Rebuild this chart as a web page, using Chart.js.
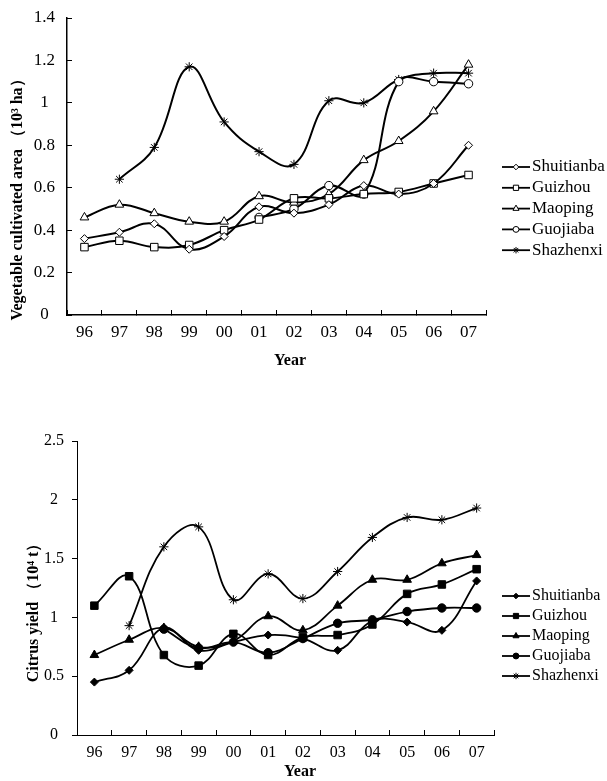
<!DOCTYPE html>
<html>
<head>
<meta charset="utf-8">
<script src="https://cdn.jsdelivr.net/npm/chart.js@4.4.1/dist/chart.umd.min.js"></script>
<style>
  body { margin: 0; background: #fff; }
  #wrap { position: relative; width: 607px; height: 781px; }
  canvas { position: absolute; left: 0; }
</style>
</head>
<body>
<div id="wrap">
  <canvas id="myChart_1" style="top:0px"></canvas>
  <canvas id="myChart_2" style="top:390px"></canvas>
</div>
<script>
//Labels for charts
const years = ["96", "97", "98", "99", "00", "01", "02", "03", "04", "05", "06", "07"];
const names = ["Shuitianba", "Guizhou", "Maoping", "Guojiaba", "Shazhenxi"];

//Vegetable cultivated area (10^3 ha)
const area_shuitianba = [0.36, 0.39, 0.43, 0.31, 0.37, 0.51, 0.48, 0.52, 0.61, 0.57, 0.62, 0.80];
const area_guizhou = [0.32, 0.35, 0.32, 0.33, 0.40, 0.45, 0.55, 0.55, 0.57, 0.58, 0.62, 0.66];
const area_maoping = [0.46, 0.52, 0.48, 0.44, 0.44, 0.56, 0.53, 0.57, 0.73, 0.82, 0.96, 1.18];
const area_guojiaba = [null, null, null, null, null, 0.46, 0.50, 0.61, 0.57, 1.10, 1.10, 1.09];
const area_shazhenxi = [null, 0.64, 0.79, 1.17, 0.91, 0.77, 0.71, 1.01, 1.00, 1.11, 1.14, 1.14];

//Citrus yield (10^4 t)
const yield_shuitianba = [0.45, 0.55, 0.91, 0.72, 0.79, 0.85, 0.82, 0.72, 0.97, 0.96, 0.89, 1.31];
const yield_guizhou = [1.10, 1.35, 0.68, 0.59, 0.86, 0.68, 0.83, 0.85, 0.94, 1.20, 1.28, 1.41];
const yield_maoping = [0.68, 0.81, 0.91, 0.75, 0.80, 1.01, 0.89, 1.10, 1.32, 1.32, 1.46, 1.53];
const yield_guojiaba = [null, null, 0.90, 0.74, 0.79, 0.70, 0.82, 0.95, 0.98, 1.05, 1.08, 1.08];
const yield_shazhenxi = [null, 0.93, 1.60, 1.77, 1.15, 1.37, 1.16, 1.39, 1.68, 1.85, 1.83, 1.93];

const styles = ["rectRot", "rect", "triangle", "circle", "star"];
const radii = [4, 5.3, 5, 4.2, 4.6];

Chart.defaults.font.family = "'Liberation Serif', 'Times New Roman', serif";
Chart.defaults.color = "#000";

const makeDatasets = (series, fill, width) =>
  series.map((data, i) => ({
    label: names[i],
    data: data,
    borderColor: "#000",
    borderWidth: width,
    tension: 0.4,
    pointStyle: styles[i],
    pointRadius: radii[i],
    pointBackgroundColor: fill,
    pointBorderColor: "#000",
    pointBorderWidth: 1,
  }));

//legend with line + marker, drawn at the right side
const sideLegend = {
  id: "sideLegend",
  afterDraw(chart, args, opts) {
    const ctx = chart.ctx;
    ctx.save();
    ctx.font = opts.size + "px 'Liberation Serif', serif";
    ctx.textBaseline = "middle";
    chart.data.datasets.forEach((ds, i) => {
      const y = opts.top + i * opts.step;
      ctx.strokeStyle = "#000";
      ctx.lineWidth = 1.8;
      ctx.beginPath();
      ctx.moveTo(opts.x, y);
      ctx.lineTo(opts.x + 28, y);
      ctx.stroke();
      ctx.fillStyle = ds.pointBackgroundColor;
      ctx.lineWidth = 1;
      Chart.helpers.drawPoint(ctx, { pointStyle: ds.pointStyle, radius: ds.pointRadius * 0.7, borderWidth: 1, rotation: 0 }, opts.x + 14, y);
      ctx.fillStyle = "#000";
      ctx.fillText(ds.label, opts.x + 30, y);
    });
    ctx.restore();
  },
};

//axis titles
const axisTitles = {
  id: "axisTitles",
  afterDraw(chart, args, opts) {
    const ctx = chart.ctx;
    ctx.save();
    ctx.fillStyle = "#000";
    ctx.font = "bold " + opts.size + "px 'Liberation Serif', serif";
    ctx.textAlign = "center";
    ctx.textBaseline = "middle";
    ctx.fillText("Year", opts.xTitle[0], opts.xTitle[1]);
    ctx.translate(opts.yTitle[0], opts.yTitle[1]);
    ctx.rotate(-Math.PI / 2);
    ctx.fillText(opts.yText, 0, 0);
    ctx.restore();
  },
};

const makeConfig = (datasets, c) => ({
  type: "line",
  data: { labels: years, datasets: datasets },
  plugins: [sideLegend, axisTitles],
  options: {
    responsive: false,
    animation: false,
    layout: { padding: { top: c.padTop, right: c.padRight, left: 0, bottom: 0 } },
    scales: {
      x: {
        offset: true,
        afterFit: (scale) => { scale.height = c.xHeight; },
        grid: { offset: true, drawOnChartArea: false, tickLength: -5, color: "#000", lineWidth: 1 },
        border: { color: "#000", width: c.axisWidth },
        ticks: { font: { size: c.font }, padding: c.xPad, maxRotation: 0, autoSkip: false },
      },
      y: {
        min: 0,
        max: c.max,
        afterFit: (scale) => {
          scale.width = c.yWidth;
          scale.paddingTop = 0;
          scale.paddingBottom = 0;
        },
        grid: { drawOnChartArea: false, tickLength: c.yTick, color: "#000", lineWidth: 1 },
        border: { color: "#000", width: c.axisWidth },
        ticks: {
          stepSize: c.step,
          font: { size: c.font },
          padding: c.yPad,
          crossAlign: "center",
          callback: (v) => String(Math.round(v * 10) / 10),
        },
      },
    },
    plugins: {
      legend: { display: false },
      tooltip: { enabled: false },
      sideLegend: { x: 502, top: c.legendTop, step: c.legendStep, size: c.font },
      axisTitles: { size: 16, xTitle: c.xTitle, yTitle: c.yTitle, yText: c.yText },
    },
  },
});

const canvas_1 = document.getElementById("myChart_1");
canvas_1.width = 607;
canvas_1.height = 390;
const canvas_2 = document.getElementById("myChart_2");
canvas_2.width = 607;
canvas_2.height = 391;

const config_1 = makeConfig(
  makeDatasets([area_shuitianba, area_guizhou, area_maoping, area_guojiaba, area_shazhenxi], "#fff", 2),
  {
    padTop: 18, padRight: 121, xHeight: 75, yWidth: 67, max: 1.4, step: 0.2,
    font: 17, xPad: 12, yPad: 17, yTick: -5, axisWidth: 1.5,
    legendTop: 167, legendStep: 20.8,
    xTitle: [290, 361], yTitle: [18, 196], yText: "Vegetable cultivated area （10³ ha）",
  }
);

const config_2 = makeConfig(
  makeDatasets([yield_shuitianba, yield_guizhou, yield_maoping, yield_guojiaba, yield_shazhenxi], "#000", 1.8),
  {
    padTop: 51, padRight: 113, xHeight: 46, yWidth: 77, max: 2.5, step: 0.5,
    font: 16, xPad: 13, yPad: 8, yTick: 5, axisWidth: 1,
    legendTop: 206, legendStep: 20,
    xTitle: [300, 382], yTitle: [34, 219], yText: "Citrus yield （10⁴ t）",
  }
);

var myChart_1 = new Chart(canvas_1, config_1);
var myChart_2 = new Chart(canvas_2, config_2);
</script>
</body>
</html>
